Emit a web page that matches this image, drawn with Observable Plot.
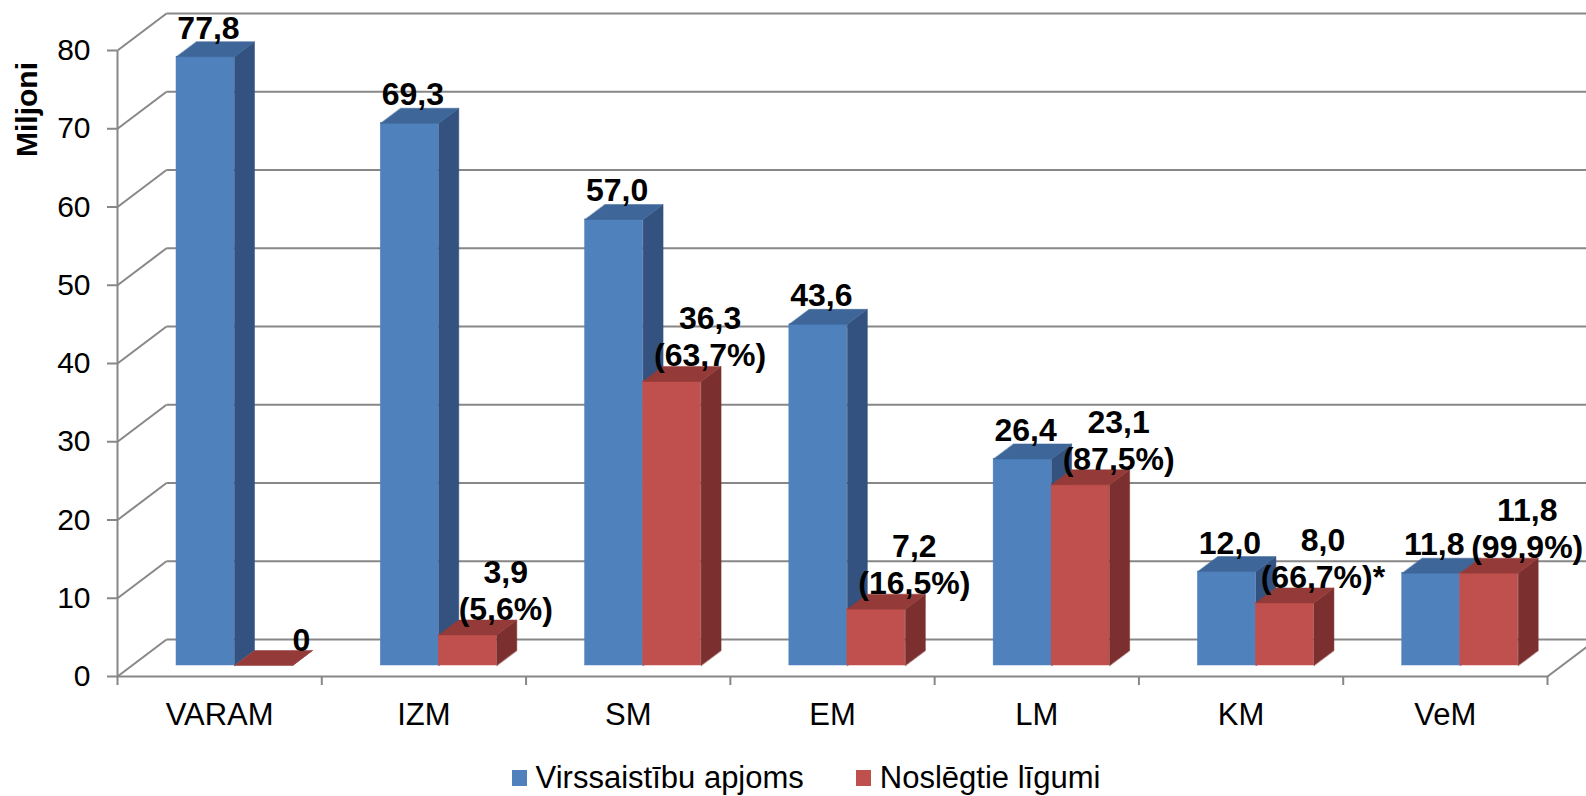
<!DOCTYPE html>
<html>
<head>
<meta charset="utf-8">
<script src="https://cdn.jsdelivr.net/npm/d3@7"></script>
<script src="https://cdn.jsdelivr.net/npm/@observablehq/plot@0.6"></script>
<style>
  body { margin: 0; background: #fff; font-family: "Liberation Sans", Arial, sans-serif; }
  #legend { height: 36px; display: flex; justify-content: center; align-items: center; gap: 52px; font-size: 31px; padding-left: 26px; color: #000; }
  .item { display: flex; align-items: center; gap: 9px; }
  .sw { width: 15px; height: 16px; display: inline-block; }
</style>
</head>
<body>
<div id="chart"></div>
<div id="legend"></div>
<script>
// ---- data ----
const categories = ["VARAM", "IZM", "SM", "EM", "LM", "KM", "VeM"];
const allocated  = [77.8, 69.3, 57.0, 43.6, 26.4, 12.0, 11.8];   // Virssaistību apjoms
const contracted = [0, 3.9, 36.3, 7.2, 23.1, 8.0, 11.8];         // Noslēgtie līgumi
const shareLabels = ["", "(5,6%)", "(63,7%)", "(16,5%)", "(87,5%)", "(66,7%)*", "(99,9%)"];
const seriesNames = ["Virssaistību apjoms", "Noslēgtie līgumi"];
const yTicks = [0, 10, 20, 30, 40, 50, 60, 70, 80];
const yTitle = "Miljoni";

// ---- style / layout ----
const W = 1586, H = 760, mL = 117, mR = 39, mT = 50, mB = 84;
const n = categories.length, yMax = d3.max(yTicks);
const pxX = (W - mL - mR) / n;          // px per category unit
const pxY = (H - mT - mB) / yMax;       // px per value unit
const X = px => px / pxX, Y = px => px / pxY;
const BAR_OFF = X(59), BAR_W = X(58), BASE = Y(11);
const BDX = X(20), BDY = Y(15);         // bar depth
const WDX = X(49), WDY = Y(37);         // wall depth
const GRID = "#878787";
const C = {
  front: ["#4F81BD", "#C0504D"],
  side:  ["#33527F", "#7B302F"],
  top:   ["#3E6698", "#943B39"]
};
const fmt = v => v.toFixed(1).replace(".", ",");

const bars = categories.flatMap((c, i) => [
  {i, s: 0, v: allocated[i]},
  {i, s: 1, v: contracted[i]}
]).map(b => ({
  ...b,
  x1: b.i + BAR_OFF + b.s * BAR_W,
  x2: b.i + BAR_OFF + (b.s + 1) * BAR_W,
  y1: BASE,
  y2: BASE + b.v,
  id: b.i + "-" + b.s
}));

const sidePts = bars.flatMap(b => [[b.x2, b.y1], [b.x2, b.y2], [b.x2 + BDX, b.y2 + BDY], [b.x2 + BDX, b.y1 + BDY]]
  .map(([x, y]) => ({id: b.id, s: b.s, x, y})));
const topPts = bars.flatMap(b => [[b.x1, b.y2], [b.x2, b.y2], [b.x2 + BDX, b.y2 + BDY], [b.x1 + BDX, b.y2 + BDY]]
  .map(([x, y]) => ({id: b.id, s: b.s, x, y})));

// frame edges derived from the domain
const edges = [
  {x1: 0, y1: 0, x2: 0, y2: yMax},
  {x1: 0, y1: 0, x2: n, y2: 0},
  {x1: n, y1: 0, x2: n + WDX, y2: WDY}
];

const barMarks = s => [
  Plot.rect(bars.filter(b => b.s === s), {x1: "x1", x2: "x2", y1: "y1", y2: "y2", fill: C.front[s], stroke: C.front[s], strokeWidth: 0.5}),
  Plot.line(sidePts.filter(p => p.s === s), {x: "x", y: "y", z: "id", fill: C.side[s], stroke: C.side[s], strokeWidth: 0.5, curve: "linear-closed"}),
  Plot.line(topPts.filter(p => p.s === s), {x: "x", y: "y", z: "id", fill: C.top[s], stroke: C.top[s], strokeWidth: 0.5, curve: "linear-closed"})
];

const chart = Plot.plot({
  width: W, height: H,
  marginLeft: mL, marginRight: mR, marginTop: mT, marginBottom: mB,
  x: {type: "linear", domain: [0, n]},
  y: {type: "linear", domain: [0, yMax]},
  style: {fontFamily: "'Liberation Sans', Arial, sans-serif", fontSize: "30px", color: "#000", background: "#fff", overflow: "visible"},
  marks: [
    // back wall grid + side diagonals
    Plot.link(yTicks, {x1: () => WDX, y1: d => d + WDY, x2: () => n + WDX, y2: d => d + WDY, stroke: GRID, strokeWidth: 2}),
    Plot.link(yTicks, {x1: () => 0, y1: d => d, x2: () => WDX, y2: d => d + WDY, stroke: GRID, strokeWidth: 2}),
    Plot.link(edges, {x1: "x1", y1: "y1", x2: "x2", y2: "y2", stroke: GRID, strokeWidth: 2}),
    // axes
    Plot.axisY({ticks: yTicks, tickSize: 10, tickPadding: 17, stroke: GRID, strokeWidth: 2, fill: "#000", fontSize: 30, label: null}),
    Plot.axisX({ticks: d3.range(0, n + 1), tickSize: 9, tickFormat: () => "", stroke: GRID, strokeWidth: 2, label: null}),
    Plot.axisX({ticks: categories.map((c, i) => i + 0.5), tickFormat: d => categories[Math.floor(d)], tickSize: 0, tickPadding: 26, fill: "#000", fontSize: 31, label: null}),
    // bars
    ...barMarks(0),
    ...barMarks(1),
    // value labels
    Plot.text(bars.filter(b => b.s === 0), {
      x: b => (b.x1 + b.x2) / 2 + X(3), y: "y2", text: b => fmt(b.v),
      dy: -18, lineAnchor: "bottom", fontWeight: "bold", fontSize: 32, fill: "#000"
    }),
    Plot.text(bars.filter(b => b.s === 1), {
      x: b => (b.x1 + b.x2) / 2 + X(38), y: "y2",
      text: b => b.v === 0 ? "0" : fmt(b.v) + "\n" + shareLabels[b.i],
      dy: -15, lineAnchor: "bottom", lineHeight: 1.16, fontWeight: "bold", fontSize: 32, fill: "#000"
    }),
    // y title
    Plot.text([yTitle], {frameAnchor: "top-left", text: d => d, rotate: -90, dx: -90, dy: 59,
      textAnchor: "middle", lineAnchor: "middle", fontWeight: "bold", fontSize: 30, fill: "#000"})
  ]
});
document.getElementById("chart").appendChild(chart);

const legend = document.getElementById("legend");
seriesNames.forEach((name, s) => {
  const item = document.createElement("div");
  item.className = "item";
  const sw = document.createElement("span");
  sw.className = "sw";
  sw.style.background = C.front[s];
  const t = document.createElement("span");
  t.textContent = name;
  item.append(sw, t);
  legend.append(item);
});
</script>
</body>
</html>
